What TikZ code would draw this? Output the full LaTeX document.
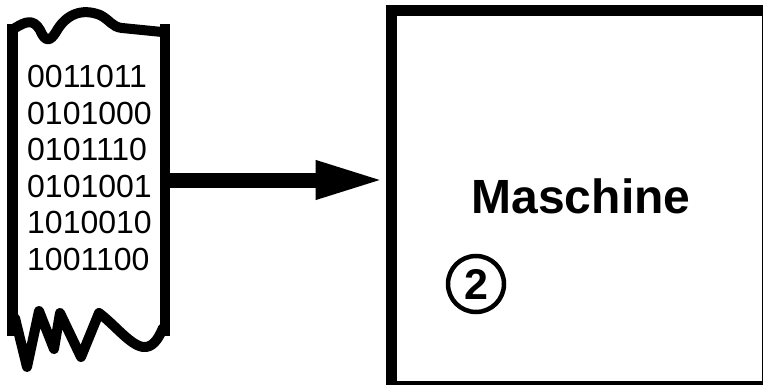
\documentclass[tikz,border=0pt]{standalone}
\usepackage{fontspec}
\setmainfont{Liberation Sans}
\usetikzlibrary{arrows.meta}
\tikzset{
  tapeedge/.style={line width=10.5pt, line cap=butt},
  tapewave/.style={line width=10pt, line join=round, line cap=round},
  machinebox/.style={draw, line width=11pt, minimum width=376pt, minimum height=376pt, inner sep=0pt},
  bits/.style={align=left, inner sep=0pt, font=\fontsize{32}{36.6}\selectfont},
  bigarrow/.style={line width=15pt, -{Triangle[length=70pt,width=35pt]}},
  numcircle/.style={circle, draw, line width=4.5pt, minimum size=56pt, inner sep=0pt, font=\fontsize{43}{45}\selectfont\bfseries}
}
\begin{document}
\begin{tikzpicture}[x=1pt,y=-1pt]
\useasboundingbox (0,0) rectangle (763,385);
\clip (0,0) rectangle (763,385);
% tape
\draw[tapeedge] (12.5,24) -- (12.5,336);
\draw[tapeedge] (165,24) -- (165,336);
\draw[tapewave] (15,28) .. controls (25,22) and (33,18) .. (40,30)
  .. controls (45,42) and (50,42) .. (56,32)
  .. controls (66,14) and (82,8) .. (100,15)
  .. controls (110,20) and (112,27) .. (122,28)
  -- (162,32);
\draw[tapewave] (15,318) -- (27,367) -- (39,311) -- (54,349) -- (60,313) -- (81,357) -- (99,313)
  .. controls (115,325) and (130,345) .. (143,347)
  .. controls (152,348) and (158,340) .. (163,328);
\node[bits, anchor=west] (tape) at (27,168) {0011011\\0101000\\0101110\\0101001\\1010010\\1001100};
% machine
\node[machinebox] (box) at (579,198.5) {};
\node[font=\fontsize{48}{50}\selectfont\bfseries] (label) at (581,196) {Maschine};
\node[numcircle] (num) at (476,284) {2};
\coordinate (tapeport) at (160,180);
\draw[bigarrow] (tapeport) -- (tapeport -| box.west);
\end{tikzpicture}
\end{document}
